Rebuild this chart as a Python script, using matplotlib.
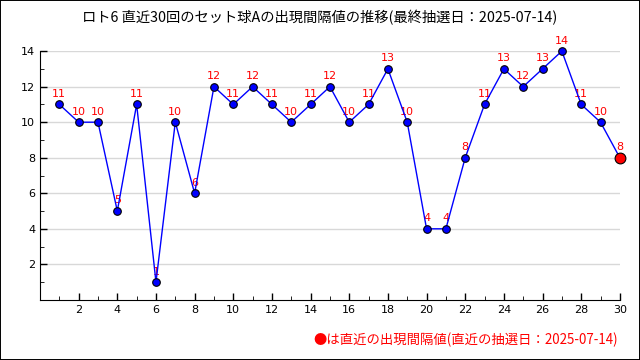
import matplotlib.pyplot as plt
from matplotlib.patches import Rectangle

plt.rcParams['font.family'] = ['Noto Sans CJK JP', 'DejaVu Sans']

draws = list(range(1, 31))
intervals = [11, 10, 10, 5, 11, 1, 10, 6, 12, 11, 12, 11, 10, 11, 12,
             10, 11, 13, 10, 4, 4, 8, 11, 13, 12, 13, 14, 11, 10, 8]
title = 'ロト6 直近30回のセット球Aの出現間隔値の推移(最終抽選日：2025-07-14)'
note = '●は直近の出現間隔値(直近の抽選日：2025-07-14)'

fig = plt.figure(figsize=(6.4, 3.6), dpi=100)
ax = fig.add_axes([0.0625, 0.167, 0.906, 0.691])

ax.plot(draws, intervals, color='blue', lw=1, zorder=3)
ax.scatter(draws[:-1], intervals[:-1], s=30, color='blue', edgecolor='black',
           linewidth=0.8, zorder=4, clip_on=False)
ax.scatter(draws[-1:], intervals[-1:], s=60, color='red', edgecolor='black',
           linewidth=0.8, zorder=4, clip_on=False)
for x, y in zip(draws, intervals):
    ax.annotate(str(y), (x, y), xytext=(0, 4), textcoords='offset points',
                ha='center', va='bottom', color='red', fontsize=8,
                family='DejaVu Sans', zorder=2)

ax.set_xlim(0, 30)
ax.set_ylim(0, 14)
ax.set_xticks(range(2, 31, 2))
ax.set_xticks(range(1, 31), minor=True)
ax.set_yticks(range(2, 15, 2))
ax.set_yticks(range(1, 15), minor=True)
ax.tick_params(direction='in', labelsize=8, length=5, width=1)
ax.tick_params(which='minor', direction='in', length=3)
for lab in ax.get_xticklabels() + ax.get_yticklabels():
    lab.set_family('DejaVu Sans')
ax.grid(axis='y', color='#d8d8d8', lw=1)
ax.set_axisbelow(True)
ax.spines['top'].set_visible(False)
ax.spines['right'].set_visible(False)

fig.text(0.5, 0.95, title, ha='center', va='center', fontsize=10.3)
fig.text(0.966, 0.055, note, ha='right', va='center', fontsize=9.6, color='red')
fig.patches.append(Rectangle((0, 0), 1, 1, transform=fig.transFigure,
                             fill=False, edgecolor='black', lw=1.4))

fig.savefig('out.png', dpi=100)
